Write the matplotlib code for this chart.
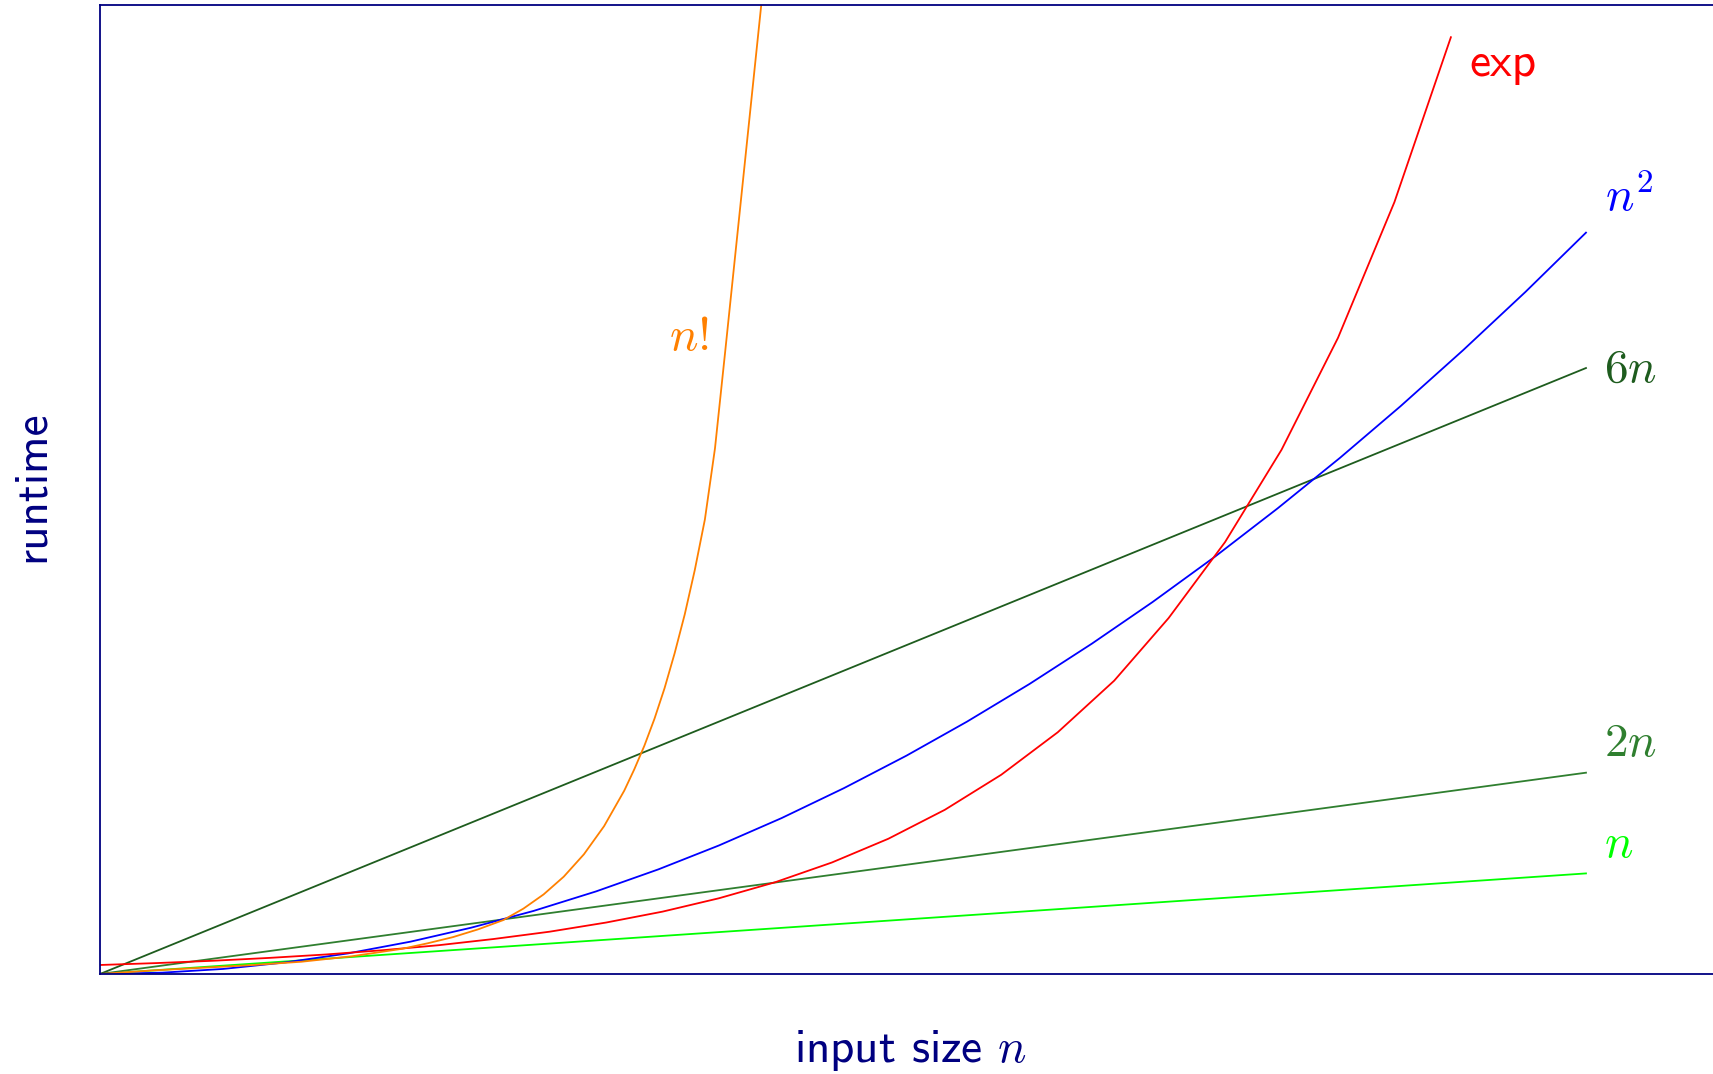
import matplotlib.pyplot as plt

plt.rcParams['mathtext.fontset'] = 'cm'

# values (x in units of n, y in runtime units)
lin_x = [0, 7.37]
n_y = [0, 7.37]
two_n_y = [0, 14.75]
six_n_y = [0, 44.4]

sq_x = [0, 0.31, 0.61, 0.92, 1.23, 1.54, 1.84, 2.15, 2.46, 2.77, 3.07, 3.38, 3.69,
        4.00, 4.30, 4.61, 4.92, 5.22, 5.53, 5.84, 6.15, 6.45, 6.76, 7.07, 7.37]
sq_y = [0, 0.10, 0.37, 0.85, 1.51, 2.37, 3.39, 4.62, 6.05, 7.67, 9.42, 11.42, 13.62,
        16.0, 18.49, 21.25, 24.21, 27.25, 30.58, 34.11, 37.82, 41.60, 45.70, 49.98, 54.32]

exp_x = [0, 0.28, 0.56, 0.84, 1.12, 1.40, 1.68, 1.95, 2.23, 2.51, 2.79, 3.07, 3.35,
         3.63, 3.91, 4.19, 4.47, 4.75, 5.03, 5.30, 5.58, 5.86, 6.14, 6.42, 6.70]
exp_y = [0.66, 0.80, 0.97, 1.18, 1.43, 1.74, 2.11, 2.56, 3.10, 3.77, 4.57, 5.55, 6.73,
         8.17, 9.91, 12.03, 14.60, 17.71, 21.49, 26.08, 31.65, 38.41, 46.61, 56.56, 68.64]

fact_x = [0, 0.25, 0.5, 0.75, 1.0, 1.25, 1.5, 1.625, 1.75, 1.875, 2.0, 2.1, 2.2, 2.3,
          2.4, 2.5, 2.6, 2.65, 2.7, 2.75, 2.8, 2.85, 2.9, 2.95, 3.0, 3.05, 3.1, 3.15,
          3.2, 3.25, 3.3]
fact_y = [0, 0.25, 0.45, 0.65, 0.9, 1.3, 1.85, 2.25, 2.7, 3.27, 3.95, 4.79, 5.83, 7.13,
          8.77, 10.83, 13.43, 15.0, 16.73, 18.7, 20.94, 23.5, 26.34, 29.6, 33.3, 38.5,
          45.5, 52.6, 59.7, 66.8, 73.9]

navy = '#000080'
c_n = '#00ff00'
c_2n = '#2f7f2f'
c_6n = '#1e5c1e'
c_sq = '#0000ff'
c_exp = '#ff0000'
c_fact = '#ff8000'

fig = plt.figure(figsize=(17.13, 10.74), dpi=100)
ax = fig.add_axes([100 / 1713, 100 / 1074, 1613 / 1713, 969 / 1074])

lw = 1.3
ax.plot(lin_x, n_y, color=c_n, lw=lw)
ax.plot(lin_x, two_n_y, color=c_2n, lw=lw)
ax.plot(lin_x, six_n_y, color=c_6n, lw=lw)
ax.plot(sq_x, sq_y, color=c_sq, lw=lw)
ax.plot(exp_x, exp_y, color=c_exp, lw=lw)
ax.plot(fact_x, fact_y, color=c_fact, lw=lw)

ax.set_xlim(0, 8)
ax.set_ylim(0, 71)
ax.set_xticks([])
ax.set_yticks([])
for side in ['left', 'bottom', 'top']:
    ax.spines[side].set_color(navy)
    ax.spines[side].set_linewidth(1.3)
    ax.spines[side].set_zorder(5)
ax.spines['right'].set_visible(False)

fs = 34
ax.text(6.79, 65.8, 'exp', color=c_exp, fontsize=fs, family='cmss10',
        ha='left', va='baseline')
ax.text(7.465, 55.9, '$n^2$', color=c_sq, fontsize=fs, ha='left', va='baseline')
ax.text(7.46, 43.4, '$6n$', color=c_6n, fontsize=fs, ha='left', va='baseline')
ax.text(7.46, 16.0, '$2n$', color=c_2n, fontsize=fs, ha='left', va='baseline')
ax.text(7.46, 8.54, '$n$', color=c_n, fontsize=fs, ha='left', va='baseline')
ax.text(2.82, 45.7, '$n!$', color=c_fact, fontsize=fs, ha='left', va='baseline')

fig.text(32 / 1713, 1 - 486 / 1074, 'runtime', color=navy, fontsize=fs,
         family='cmss10', rotation=90, ha='center', va='center')
fig.text(910 / 1713, 1 - 1062 / 1074, 'input size $n$', color=navy, fontsize=fs,
         family='cmss10', ha='center', va='baseline')

fig.savefig('out.png', dpi=100)
